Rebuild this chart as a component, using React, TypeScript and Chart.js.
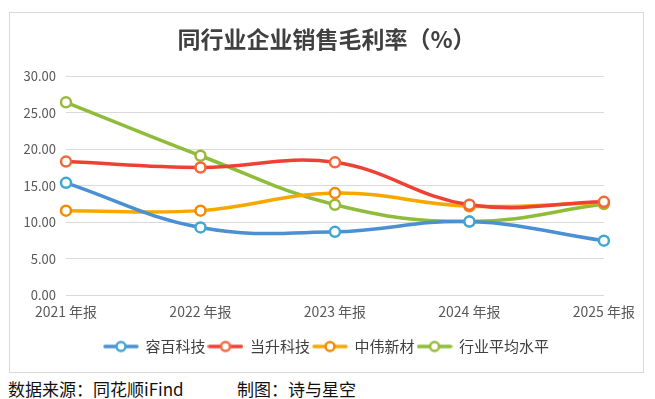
import React, { useEffect, useRef } from "react";
import { Chart, registerables } from "chart.js";

Chart.register(...registerables);

const categories = ["2021 年报", "2022 年报", "2023 年报", "2024 年报", "2025 年报"];
const rongbai = [15.4, 9.3, 8.7, 10.1, 7.5];
const dangsheng = [18.3, 17.5, 18.2, 12.4, 12.8];
const zhongwei = [11.6, 11.6, 14.0, 12.2, 12.7];
const industryAvg = [26.4, 19.1, 12.4, 10.1, 12.5];
const seriesNames = ["容百科技", "当升科技", "中伟新材", "行业平均水平"];
const lineColors = ["#4a90d2", "#ee4136", "#f6a800", "#8fbc3a"];
const pointColors = ["#3fa7d6", "#f2683a", "#f58a00", "#9ab83a"];

const FONT = "'Noto Sans CJK SC', 'Noto Sans', sans-serif";

function legendIcon(line: string, point: string): HTMLCanvasElement {
  const c = document.createElement("canvas");
  c.width = 36;
  c.height = 14;
  const ctx = c.getContext("2d")!;
  ctx.strokeStyle = line;
  ctx.lineWidth = 3.5;
  ctx.lineCap = "round";
  ctx.beginPath();
  ctx.moveTo(2, 7);
  ctx.lineTo(34, 7);
  ctx.stroke();
  ctx.beginPath();
  ctx.arc(18, 7, 4.5, 0, Math.PI * 2);
  ctx.fillStyle = "#ffffff";
  ctx.fill();
  ctx.lineWidth = 2.5;
  ctx.strokeStyle = point;
  ctx.stroke();
  return c;
}

export default function App() {
  const ref = useRef<HTMLCanvasElement | null>(null);
  useEffect(() => {
    if (!ref.current) return;
    const data = [rongbai, dangsheng, zhongwei, industryAvg];
    const icons = data.map((_, i) => legendIcon(lineColors[i], pointColors[i]));
    const chart = new Chart(ref.current, {
      type: "line",
      data: {
        labels: categories,
        datasets: data.map((d, i) => ({
          label: seriesNames[i],
          data: d,
          borderColor: lineColors[i],
          backgroundColor: "#ffffff",
          borderWidth: 3.5,
          tension: 0.4,
          pointRadius: 5,
          pointBorderWidth: 2.5,
          pointBorderColor: pointColors[i],
          pointBackgroundColor: "#ffffff",
          pointStyle: "circle",
          fill: false,
        })),
      },
      options: {
        responsive: false,
        animation: false,
        layout: { padding: { left: 10, right: 10, top: 0, bottom: 8 } },
        plugins: {
          title: {
            display: true,
            text: "同行业企业销售毛利率（%）",
            color: "#404040",
            font: { family: FONT, size: 23, weight: "bold" },
            padding: { top: 12.4, bottom: 23 },
          },
          legend: {
            position: "bottom",
            labels: {
              usePointStyle: true,
              pointStyleWidth: 34,
              padding: 3,
              color: "#404040",
              font: { family: FONT, size: 15 },
              generateLabels: (ch: any) =>
                ch.data.datasets.map((ds: any, i: number) => ({
                  text: ds.label,
                  pointStyle: icons[i],
                  fillStyle: "#fff",
                  strokeStyle: lineColors[i],
                  lineWidth: 0,
                  hidden: false,
                  datasetIndex: i,
                  fontColor: "#404040",
                })),
            },
          },
          tooltip: { enabled: false },
        },
        scales: {
          x: {
            offset: false,
            afterFit: (s: any) => {
              s.height = 40.5;
            },
            grid: { display: false, drawTicks: false },
            border: { display: true, color: "#d9d9d9" },
            ticks: {
              color: "#595959",
              font: { family: FONT, size: 14 },
              padding: 8,
              maxRotation: 0,
              autoSkip: false,
            },
          },
          y: {
            min: 0,
            max: 30,
            afterFit: (s: any) => {
              s.width = 46;
            },
            grid: { color: "#d9d9d9", drawTicks: false },
            border: { display: false },
            ticks: {
              stepSize: 5,
              color: "#595959",
              font: { family: FONT, size: 13 },
              padding: 10,
              callback: (v: any) => Number(v).toFixed(2),
            },
          },
          yRight: {
            position: "right",
            min: 0,
            max: 30,
            afterFit: (s: any) => {
              s.width = 29;
            },
            grid: { display: false, drawTicks: false },
            border: { display: false },
            ticks: { display: false },
          },
        },
      },
    });
    return () => chart.destroy();
  }, []);

  const footStyle: React.CSSProperties = {
    position: "absolute",
    top: 379,
    fontFamily: FONT,
    fontSize: 17,
    color: "#111",
    whiteSpace: "pre",
    lineHeight: "20px",
  };

  return (
    <div style={{ position: "absolute", left: 0, top: 0, width: 655, height: 399, background: "#fff" }}>
      <div
        style={{
          position: "absolute",
          left: 9,
          top: 12,
          width: 633,
          height: 359,
          border: "1px solid #d9d9d9",
          background: "#fff",
        }}
      >
        <canvas ref={ref} width={633} height={359} style={{ display: "block" }} />
      </div>
      <div style={{ ...footStyle, left: 8 }}>{"数据来源：同花顺iFind"}</div>
      <div style={{ ...footStyle, left: 237 }}>{"制图：诗与星空"}</div>
    </div>
  );
}
